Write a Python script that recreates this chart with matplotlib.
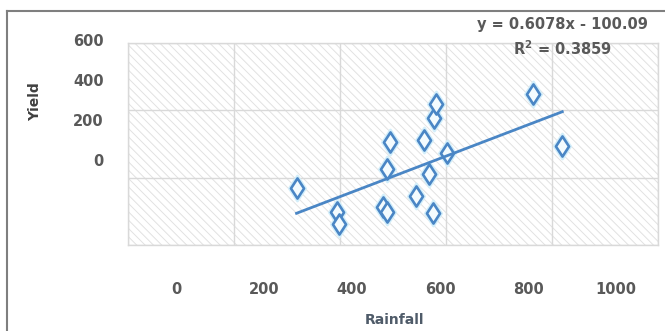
import matplotlib.pyplot as plt
import numpy as np
from matplotlib.lines import Line2D
from matplotlib.patches import Rectangle
from matplotlib.path import Path

# Rainfall vs yield observations
rainfall = [274, 365, 370, 486, 479, 471, 479, 564, 545, 575, 585, 586, 592, 615, 811, 878]
yield_vals = [157, 72, 28, 325, 225, 90, 72, 331, 129, 207, 66, 410, 461, 283, 498, 310]

# Excel linear trendline
slope = 0.6078
intercept = -100.09
r_squared = 0.3859

x_tick_values = [0, 200, 400, 600, 800, 1000]
y_tick_values = [0, 200, 400, 600]

TEXT = "#595959"
BLUE = "#4a86c5"
GRID = "#d9d9d9"
FS = 10.5

plt.rcParams["font.family"] = ["DejaVu Sans"]
plt.rcParams["hatch.linewidth"] = 0.7

W, H = 665, 331
fig = plt.figure(figsize=(W / 100, H / 100), dpi=100)


def px_box(x0, y0, x1, y1):
    return [x0 / W, 1 - y1 / H, (x1 - x0) / W, (y1 - y0) / H]


ax = fig.add_axes(px_box(128, 43, 658, 245))
xlim = (-109, 1095.5)
ylim = (-48.2, 681.9)
ax.set_xlim(*xlim)
ax.set_ylim(*ylim)
# diagonal pattern fill of the plot area
ax.add_patch(Rectangle((0, 0), 1, 1, transform=ax.transAxes, facecolor="white",
                       edgecolor="#e2e2e2", linewidth=0, hatch="\\\\\\\\", zorder=0))
ax.set_xticks(np.linspace(*xlim, 6))
ax.set_yticks(np.linspace(*ylim, 4))
ax.tick_params(length=0, labelbottom=False, labelleft=False)
ax.grid(True, color=GRID, linewidth=1, zorder=1)
ax.set_axisbelow(True)
for sp in ax.spines.values():
    sp.set_color(GRID)
    sp.set_linewidth(1)

diamond = Path([(0, 1), (0.65, 0), (0, -1), (-0.65, 0), (0, 1)],
               [Path.MOVETO, Path.LINETO, Path.LINETO, Path.LINETO, Path.CLOSEPOLY])

# soft halo behind the markers
ax.plot(rainfall, yield_vals, linestyle="none", marker=diamond, markersize=18,
        markerfacecolor="#e3f4fc", markeredgecolor="#d2eefa", markeredgewidth=2, zorder=2)
ax.plot(rainfall, yield_vals, linestyle="none", marker=diamond, markersize=14.5,
        markerfacecolor="#f3fbfe", markeredgecolor=BLUE, markeredgewidth=1.9, zorder=3)

trend_x = np.array([min(rainfall), max(rainfall)])
ax.plot(trend_x, slope * trend_x + intercept, color=BLUE, linewidth=2, zorder=4)

# axis numbers sit on their own scales
ax_x = fig.add_axes(px_box(176, 281, 616, 282))
ax_x.set_xlim(0, 1000)
ax_x.set_xticks(x_tick_values)
ax_x.set_xticklabels([str(v) for v in x_tick_values], color=TEXT, fontsize=FS, fontweight="bold")
ax_x.set_yticks([])
ax_x.tick_params(length=0, pad=0)
ax_x.patch.set_visible(False)
for sp in ax_x.spines.values():
    sp.set_visible(False)

ax_y = fig.add_axes(px_box(104, 40, 105, 160))
ax_y.set_ylim(0, 600)
ax_y.set_yticks(y_tick_values)
ax_y.set_yticklabels([str(v) for v in y_tick_values], color=TEXT, fontsize=FS, fontweight="bold")
ax_y.set_xticks([])
ax_y.tick_params(length=0, pad=0)
ax_y.patch.set_visible(False)
for sp in ax_y.spines.values():
    sp.set_visible(False)

fig.text(395 / W, 1 - 320 / H, "Rainfall", color="#4f5b69", fontsize=10, fontweight="bold",
         ha="center", va="center")
fig.text(35 / W, 1 - 102 / H, "Yield", color="#404040", fontsize=10, fontweight="bold",
         rotation=90, ha="center", va="center")

fig.text(562 / W, 1 - 25 / H, f"y = {slope}x - {abs(intercept)}", color=TEXT,
         fontsize=FS, fontweight="bold", ha="center", va="center")
fig.text(562 / W, 1 - 49 / H, f"R$^\\mathbf{{2}}$ = {r_squared}", color=TEXT,
         fontsize=FS, fontweight="bold", ha="center", va="center")

# chart frame, cut off at the right and bottom
fig.add_artist(Line2D([7 / W, 1], [1 - 11 / H, 1 - 11 / H], color="#7f7f7f", linewidth=1.5))
fig.add_artist(Line2D([7 / W, 7 / W], [0, 1 - 11 / H], color="#7f7f7f", linewidth=1.5))

fig.savefig("out.png", dpi=100)
